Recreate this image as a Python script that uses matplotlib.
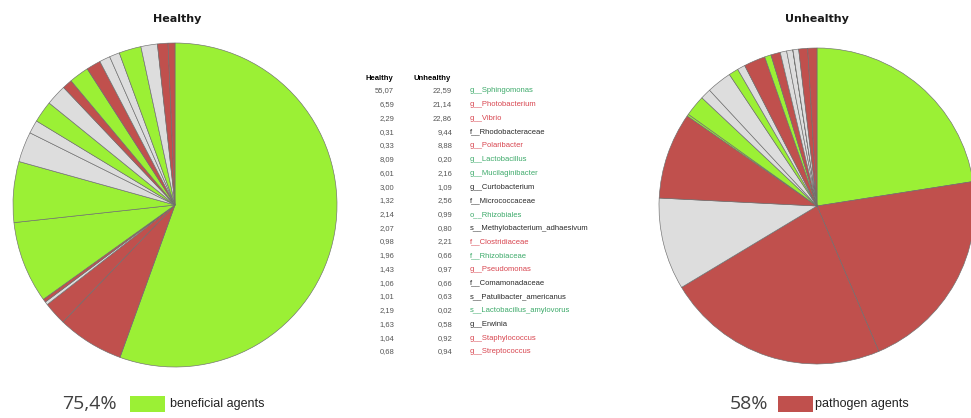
import matplotlib
matplotlib.use("Agg")
import matplotlib.pyplot as plt
from matplotlib.patches import Rectangle

W, H = 971, 418

taxa = ["g__Sphingomonas", "g__Photobacterium", "g__Vibrio", "f__Rhodobacteraceae",
        "g__Polaribacter", "g__Lactobacillus", "g__Mucilaginibacter", "g__Curtobacterium",
        "f__Micrococcaceae", "o__Rhizobiales", "s__Methylobacterium_adhaesivum",
        "f__Clostridiaceae", "f__Rhizobiaceae", "g__Pseudomonas", "f__Comamonadaceae",
        "s__Patulibacter_americanus", "s__Lactobacillus_amylovorus", "g__Erwinia",
        "g__Staphylococcus", "g__Streptococcus"]
healthy = [55.07, 6.59, 2.29, 0.31, 0.33, 8.09, 6.01, 3.00, 1.32, 2.14, 2.07, 0.98,
           1.96, 1.43, 1.06, 1.01, 2.19, 1.63, 1.04, 0.68]
unhealthy = [22.59, 21.14, 22.86, 9.44, 8.88, 0.20, 2.16, 1.09, 2.56, 0.99, 0.80, 2.21,
             0.66, 0.97, 0.66, 0.63, 0.02, 0.58, 0.92, 0.94]
group = ["beneficial", "pathogen", "pathogen", "neutral", "pathogen", "beneficial",
         "beneficial", "neutral", "neutral", "beneficial", "neutral", "pathogen",
         "beneficial", "pathogen", "neutral", "neutral", "beneficial", "neutral",
         "pathogen", "pathogen"]
pie_titles = ["Healthy", "Unhealthy"]
summary_pct = ["75,4%", "58%"]
summary_label = ["beneficial agents", "pathogen agents"]

wedge_col = {"beneficial": "#9BF035", "pathogen": "#C0504D", "neutral": "#DDDDDD"}
text_col = {"beneficial": "#3DAA6A", "pathogen": "#D8454F", "neutral": "#2A2A2A"}

fig = plt.figure(figsize=(W / 100, H / 100), dpi=100)


def px_axes(cx, cy, r):
    r2 = r * 1.01
    return fig.add_axes([(cx - r2) / W, 1 - (cy + r2) / H, 2 * r2 / W, 2 * r2 / H])


def draw_pie(cx, cy, r, values, title, tx):
    ax = px_axes(cx, cy, r)
    ax.pie(values, colors=[wedge_col[g] for g in group], startangle=90,
           counterclock=False, radius=1.0,
           wedgeprops=dict(edgecolor="#6E6E6E", linewidth=0.45))
    ax.set_xlim(-1.01, 1.01)
    ax.set_ylim(-1.01, 1.01)
    ax.set_aspect("equal")
    ax.axis("off")
    fig.text(tx / W, 1 - 19 / H, title, ha="center", va="center",
             fontsize=8, fontweight="bold", color="#1a1a1a")


draw_pie(175, 205, 162, healthy, pie_titles[0], 177)
draw_pie(817, 206, 158, unhealthy, pie_titles[1], 817)


def fy(y):
    return 1 - y / H


# table
tf = dict(family="Liberation Sans")
fig.text(365 / W, fy(78), "Healthy", fontsize=5.5, fontweight="bold", ha="left",
         va="center", **tf)
fig.text(413 / W, fy(78), "Unhealthy", fontsize=5.5, fontweight="bold", ha="left",
         va="center", **tf)
y0, dy = 91, 13.73
for i, (t, h, u, g) in enumerate(zip(taxa, healthy, unhealthy, group)):
    y = y0 + i * dy
    fig.text(394 / W, fy(y), f"{h:.2f}".replace(".", ","), fontsize=5.5, ha="right",
             va="center", color="#555555", **tf)
    fig.text(452 / W, fy(y), f"{u:.2f}".replace(".", ","), fontsize=5.5, ha="right",
             va="center", color="#555555", **tf)
    fig.text(470 / W, fy(y), t, fontsize=5.5, ha="left", va="center",
             color=text_col[g], **tf)


# bottom summaries
def summary(x_pct, x_rect, x_lbl, pct, col, lbl):
    yc = 404
    fig.text(x_pct / W, fy(yc), pct, fontsize=14, family="Open Sans", ha="left",
             va="center", color="#404040")
    fig.patches.append(Rectangle((x_rect / W, fy(yc + 8)), 35 / W, 16 / H,
                                 transform=fig.transFigure, facecolor=col,
                                 edgecolor="none"))
    fig.text(x_lbl / W, fy(yc), lbl, fontsize=9, family="Liberation Sans", ha="left",
             va="center", color="#222222")


summary(62, 130, 170, summary_pct[0], wedge_col["beneficial"], summary_label[0])
summary(730, 778, 815, summary_pct[1], wedge_col["pathogen"], summary_label[1])

fig.savefig("out.png", dpi=100)
